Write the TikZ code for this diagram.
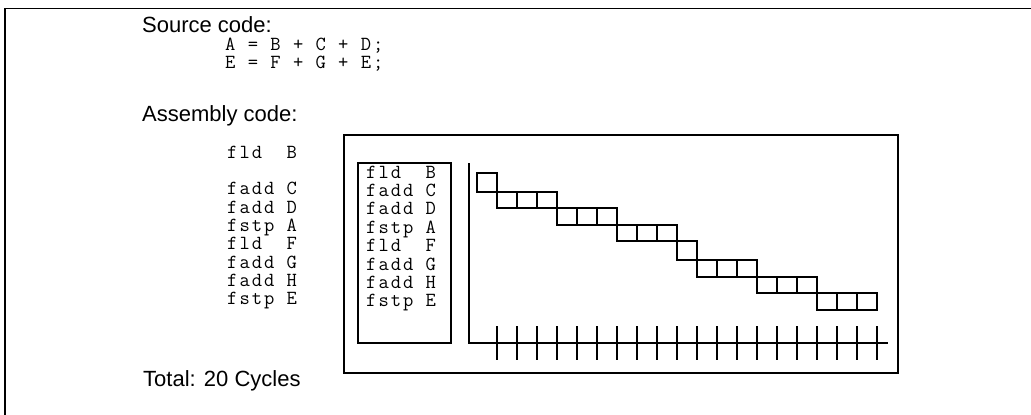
\documentclass[tikz,border=0pt]{standalone}
\usepackage{fontspec}
\setmainfont{Liberation Sans}
\newfontfamily\codefont{Latin Modern Mono}[LetterSpace=10]
\begin{document}
\begin{tikzpicture}[x=1pt,y=-1pt]
\tikzset{
  lbl/.style={anchor=base west, inner sep=0pt, font=\fontsize{22}{26}\selectfont},
  code/.style={anchor=base west, inner sep=0pt, font=\codefont\fontsize{20}{18.4}\selectfont},
  frameline/.style={line width=1.8pt},
  boxline/.style={line width=1.6pt},
  cell/.style={line width=1.5pt},
}
\useasboundingbox (0,0) rectangle (1031,415);
% outer frame (top and left visible)
\draw[frameline] (5,417) -- (5,8.5) -- (1033,8.5);

% labels
\node[lbl] (src) at (142,32) {Source code:};
\node[code] (s1) at (225,50) {A = B + C + D;};
\node[code] (s2) at (225,68.5) {E = F + G + E;};
\node[lbl] (asm) at (142,121) {Assembly code:};
\node[lbl] (tot) at (143,386) {Total: 20 Cycles};

% left assembly column
\node[code] (l0) at (227,158.3) {fld~~B};
\foreach \t [count=\k from 2] in {fadd~C,fadd~D,fstp~A,fld~~F,fadd~G,fadd~H,fstp~E}{
  \node[code] (l\k) at (227,158.3+18.3*\k) {\t};
}

% big box and inner box
\draw[boxline] (344,135) rectangle (898,373);
\draw[boxline] (358,163) rectangle (451,343);
\foreach \t [count=\k from 0] in {fld~~B,fadd~C,fadd~D,fstp~A,fld~~F,fadd~G,fadd~H,fstp~E}{
  \node[code] (r\k) at (366,178+18.4*\k) {\t};
}

% axes
\draw[cell] (469,163) -- (469,343) -- (888,343);
\foreach \k in {0,...,19}{
  \draw[cell] (497+20*\k,326) -- (497+20*\k,360);
}

% pipeline cells
\foreach \i/\ya/\yb in {0/173/192, 1/192/208, 2/192/208, 3/192/208,
  4/208/225, 5/208/225, 6/208/225, 7/225/241, 8/225/241, 9/225/241,
  10/241/260, 11/260/277, 12/260/277, 13/260/277, 14/277/293, 15/277/293,
  16/277/293, 17/293/310, 18/293/310, 19/293/310}{
  \draw[cell] (477+20*\i,\ya) rectangle (497+20*\i,\yb);
}
\end{tikzpicture}
\end{document}
